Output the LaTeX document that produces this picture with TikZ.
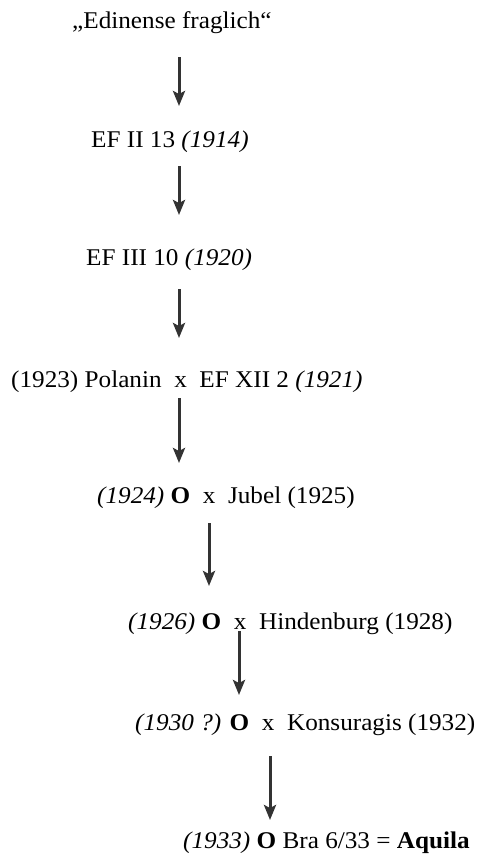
\documentclass[tikz,border=0pt]{standalone}
\usepackage{fontspec}
\setmainfont{Liberation Serif}[FakeStretch=1.05]
\usetikzlibrary{arrows.meta}
\begin{document}
\begin{tikzpicture}[x=1pt,y=-1pt,
  entry/.style={anchor=base west,inner sep=0pt,font=\fontsize{24}{28}\selectfont},
  descent/.style={draw=black!80,line width=3pt,
    -{Stealth[length=15pt,width=12pt,inset=3pt]}}]
\useasboundingbox (0,0) rectangle (482,862);
% generations
\node[entry] (g0) at (72,28)  {„Edinense fraglich“};
\node[entry] (g1) at (91,147) {EF II 13 \textit{(1914)}};
\node[entry] (g2) at (86,265) {EF III 10 \textit{(1920)}};
\node[entry] (g3) at (11,387) {(1923) Polanin\ \ x\ \ EF XII 2 \textit{(1921)}};
\node[entry] (g4) at (97,503) {\textit{(1924)} \textbf{O}\ \ x\ \ Jubel (1925)};
\node[entry] (g5) at (128,629) {\textit{(1926)} \textbf{O}\ \ x\ \ Hindenburg (1928)};
\node[entry] (g6) at (135,730) {\textit{(1930 ?)} \textbf{O}\ \ x\ \ Konsuragis (1932)};
\node[entry] (g7) at (183,848) {\textit{(1933)} \textbf{O} Bra 6/33 = \textbf{Aquila}};
% arrow ends
\coordinate (s1) at (179,57);  \coordinate (e1) at (179,106);
\coordinate (s2) at (179,166); \coordinate (e2) at (179,215);
\coordinate (s3) at (179,289); \coordinate (e3) at (179,338);
\coordinate (s4) at (179,398); \coordinate (e4) at (179,463);
\coordinate (s5) at (209,523); \coordinate (e5) at (209,586);
\coordinate (s6) at (239,631); \coordinate (e6) at (239,695);
\coordinate (s7) at (270,756); \coordinate (e7) at (270,820);
\foreach \i in {1,...,7} \draw[descent] (s\i) -- (e\i);
\end{tikzpicture}
\end{document}
